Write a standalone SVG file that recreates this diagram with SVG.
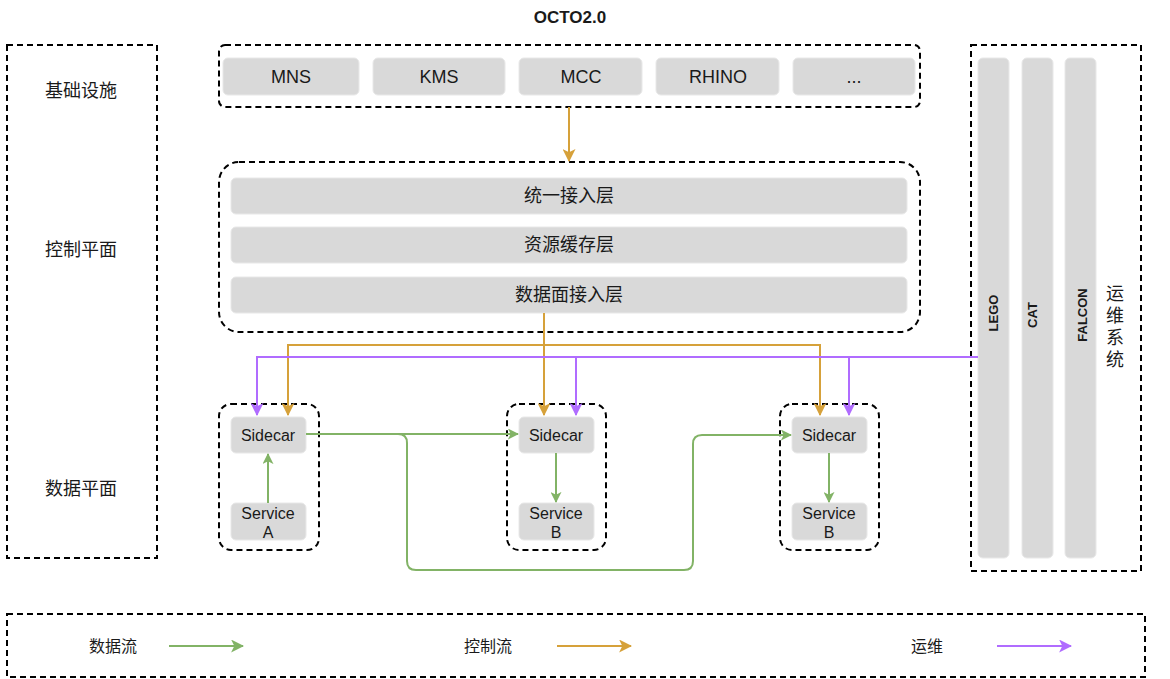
<svg xmlns="http://www.w3.org/2000/svg" width="1170" height="679" viewBox="0 0 1170 679">
<style>
.dash{fill:none;stroke:#000;stroke-width:2;stroke-dasharray:6 4}
.box{fill:#d9d9d9;stroke:#e8e8e8;stroke-width:1}
.t{font-family:"Liberation Sans",Arial,"Noto Sans CJK SC",sans-serif;fill:#1a1a1a;text-anchor:middle}
.c{font-family:"Noto Sans CJK SC","Liberation Sans",sans-serif;fill:#1a1a1a;text-anchor:middle}
.g{fill:none;stroke:#82b366;stroke-width:2}
.o{fill:none;stroke:#d6a13a;stroke-width:2}
.p{fill:none;stroke:#b06cff;stroke-width:2}
</style>
<defs>
<marker id="ag" viewBox="0 0 12 12" refX="11" refY="6" markerWidth="11" markerHeight="11" markerUnits="userSpaceOnUse" orient="auto"><path d="M0,0 L12,6 L0,12 L3,6 Z" fill="#82b366"/></marker>
<marker id="ao" viewBox="0 0 12 12" refX="11" refY="6" markerWidth="13" markerHeight="13" markerUnits="userSpaceOnUse" orient="auto"><path d="M0,0 L12,6 L0,12 L3,6 Z" fill="#d6a13a"/></marker>
<marker id="ap" viewBox="0 0 12 12" refX="11" refY="6" markerWidth="13" markerHeight="13" markerUnits="userSpaceOnUse" orient="auto"><path d="M0,0 L12,6 L0,12 L3,6 Z" fill="#b06cff"/></marker>
<marker id="agl" viewBox="0 0 12 12" refX="11" refY="6" markerWidth="13" markerHeight="13" markerUnits="userSpaceOnUse" orient="auto"><path d="M0,0 L12,6 L0,12 L3,6 Z" fill="#82b366"/></marker>
</defs>
<rect width="1170" height="679" fill="#fff"/>
<text class="t" x="570" y="23" font-size="17" font-weight="bold">OCTO2.0</text>

<g id="layers">
<rect class="dash" x="7" y="45" width="150" height="513"/>
<text class="c" x="81" y="97" font-size="18">基础设施</text>
<text class="c" x="81" y="256" font-size="18">控制平面</text>
<text class="c" x="81" y="495" font-size="18">数据平面</text>
</g>

<g id="infra">
<rect class="dash" x="219" y="45" width="701" height="62" rx="6"/>
<rect class="box" x="223" y="58" width="136" height="37" rx="5"/>
<text class="t" x="291" y="83" font-size="18">MNS</text>
<rect class="box" x="373" y="58" width="132" height="37" rx="5"/>
<text class="t" x="439" y="83" font-size="18">KMS</text>
<rect class="box" x="519" y="58" width="123" height="37" rx="5"/>
<text class="t" x="581" y="83" font-size="18">MCC</text>
<rect class="box" x="656" y="58" width="123" height="37" rx="5"/>
<text class="t" x="718" y="83" font-size="18">RHINO</text>
<rect class="box" x="793" y="58" width="122" height="37" rx="5"/>
<text class="t" x="854" y="83" font-size="18">...</text>
</g>

<g id="control">
<rect class="dash" x="219" y="162" width="701" height="170" rx="20"/>
<rect class="box" x="231" y="178" width="676" height="36" rx="5"/>
<text class="c" x="569" y="202" font-size="18">统一接入层</text>
<rect class="box" x="231" y="227" width="676" height="36" rx="5"/>
<text class="c" x="569" y="251" font-size="18">资源缓存层</text>
<rect class="box" x="231" y="277" width="676" height="36" rx="5"/>
<text class="c" x="569" y="301" font-size="18">数据面接入层</text>
</g>

<g id="ops">
<rect class="dash" x="971" y="45" width="170" height="526"/>
<rect class="box" x="978" y="58" width="31" height="500" rx="5"/>
<rect class="box" x="1022" y="58" width="31" height="500" rx="5"/>
<rect class="box" x="1065" y="58" width="31" height="500" rx="5"/>
<text class="t" transform="translate(998,313) rotate(-90)" font-size="13" font-weight="bold">LEGO</text>
<text class="t" transform="translate(1037,315) rotate(-90)" font-size="13" font-weight="bold">CAT</text>
<text class="t" transform="translate(1087,315) rotate(-90)" font-size="13" font-weight="bold">FALCON</text>
<text x="1115" y="284" font-size="18" writing-mode="vertical-rl" letter-spacing="4" style="font-family:'Noto Sans CJK SC',sans-serif;fill:#1a1a1a">运维系统</text>
</g>

<g id="podA">
<rect class="dash" x="219" y="404" width="100" height="146" rx="12"/>
<rect class="box" x="231" y="417" width="75" height="36" rx="5"/>
<text class="t" x="268" y="441" font-size="16">Sidecar</text>
<rect class="box" x="231" y="503" width="75" height="37" rx="5"/>
<text class="t" x="268" y="519" font-size="16">Service</text>
<text class="t" x="268" y="538" font-size="16">A</text>
</g>

<g id="podB">
<rect class="dash" x="507" y="404" width="99" height="146" rx="12"/>
<rect class="box" x="519" y="417" width="75" height="36" rx="5"/>
<text class="t" x="556" y="441" font-size="16">Sidecar</text>
<rect class="box" x="519" y="503" width="75" height="37" rx="5"/>
<text class="t" x="556" y="519" font-size="16">Service</text>
<text class="t" x="556" y="538" font-size="16">B</text>
</g>

<g id="podC">
<rect class="dash" x="780" y="404" width="99" height="146" rx="12"/>
<rect class="box" x="792" y="417" width="75" height="36" rx="5"/>
<text class="t" x="829" y="441" font-size="16">Sidecar</text>
<rect class="box" x="792" y="503" width="75" height="37" rx="5"/>
<text class="t" x="829" y="519" font-size="16">Service</text>
<text class="t" x="829" y="538" font-size="16">B</text>
</g>

<g id="connectors">
<path class="o" d="M569,107 V161" marker-end="url(#ao)"/>
<path class="o" d="M544,313 V415" marker-end="url(#ao)"/>
<path class="o" d="M288,415 V345 H820 V415" marker-end="url(#ao)"/>
<path class="o" d="M288,347 V415" marker-end="url(#ao)"/>
<path class="p" d="M978,357 H257 V415" marker-end="url(#ap)"/>
<path class="p" d="M576,357 V415" marker-end="url(#ap)"/>
<path class="p" d="M849,357 V415" marker-end="url(#ap)"/>
<path class="g" d="M268,503 V454" marker-end="url(#ag)"/>
<path class="g" d="M306,434 H518" marker-end="url(#ag)"/>
<path class="g" d="M306,434 H398 Q407,434 407,443 V561 Q407,570 416,570 H684 Q693,570 693,561 V444 Q693,435 702,435 H791" marker-end="url(#ag)"/>
<path class="g" d="M556,453 V502" marker-end="url(#ag)"/>
<path class="g" d="M829,453 V502" marker-end="url(#ag)"/>
</g>

<g id="legend">
<rect class="dash" x="7" y="614" width="1138" height="63"/>
<text class="c" x="113" y="652" font-size="16">数据流</text>
<path class="g" d="M169,646 H243" marker-end="url(#agl)"/>
<text class="c" x="488" y="652" font-size="16">控制流</text>
<path class="o" d="M557,646 H631" marker-end="url(#ao)"/>
<text class="c" x="927" y="652" font-size="16">运维</text>
<path class="p" d="M997,646 H1071" marker-end="url(#ap)"/>
</g>
</svg>
